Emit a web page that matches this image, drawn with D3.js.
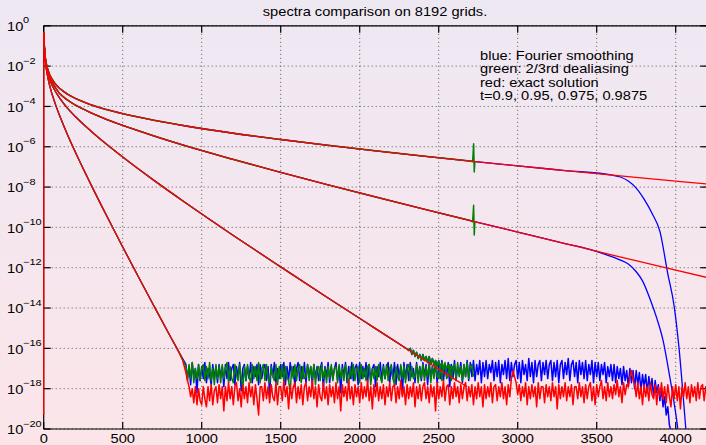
<!DOCTYPE html>
<html>
<head>
<meta charset="utf-8">
<script src="https://cdn.jsdelivr.net/npm/d3@7"></script>
<style>
  body { margin: 0; }
  svg { display: block; font-family: "Liberation Sans", Arial, sans-serif; }
</style>
</head>
<body>
<script>
// ---- text ----
const title = "spectra comparison on 8192 grids.";
const legendLines = ["blue: Fourier smoothing", "green: 2/3rd dealiasing", "red: exact solution", "t=0.9, 0.95, 0.975, 0.9875"];
const xTicks = [0, 500, 1000, 1500, 2000, 2500, 3000, 3500, 4000];
const yTickExp = [0, -2, -4, -6, -8, -10, -12, -14, -16, -18, -20];

// ---- spectra, log10 values ----
// t = 0.9
const kA = [1, 3, 6, 10, 20, 40, 70, 100, 150, 200, 300, 400, 500, 600, 700, 800, 860];
const lgA = [-0.35, -0.9, -1.3, -1.72, -2.3, -3.03, -3.8, -4.44, -5.39, -6.26, -7.89, -9.45, -10.97, -12.46, -13.93, -15.39, -16.25];
const kRedHeadA = [0], lgRedHeadA = [-19.3];
const kRedTailA = [880], lgRedTailA = [-16.6];
// t = 0.95
const kB = [1, 3, 6, 10, 20, 40, 70, 100, 150, 200, 300, 400, 500, 700, 900, 1200, 1500, 1800, 2100, 2300];
const lgB = [-0.35, -0.88, -1.26, -1.66, -2.16, -2.7, -3.2, -3.58, -4.08, -4.5, -5.23, -5.89, -6.51, -7.68, -8.79, -10.4, -11.96, -13.5, -15.02, -16.03];
const kRedTailB = [2400, 2550, 2640, 2680], lgRedTailB = [-16.53, -17.28, -17.72, -17.9];
// blue / green leave the exact curve and flatten out, every 10 modes from 2310
const numTailStartB = 2310;
const lgNumTailB = [
  -16.1, -16.0, -16.3, -16.1, -16.4, -16.2, -16.5, -16.3, -16.6, -16.3,
  -16.6, -16.4, -16.7, -16.4, -16.8, -16.5, -16.8, -16.6, -16.9, -16.6,
  -17.0, -16.7, -17.1, -16.8, -17.0, -16.8, -17.2, -16.9, -17.1, -16.9
];
// t = 0.975 and t = 0.9875
const kC = [1, 3, 6, 10, 20, 40, 70, 100, 150, 200, 300, 400, 500, 700, 900, 1200, 1500, 1800, 2100, 2400, 2700, 3000, 3300, 3600, 3900, 4200];
const lgC = [-0.35, -0.85, -1.22, -1.6, -2.05, -2.57, -3.02, -3.35, -3.68, -3.93, -4.32, -4.65, -4.94, -5.47, -5.96, -6.63, -7.27, -7.89, -8.49, -9.08, -9.66, -10.23, -10.8, -11.37, -11.93, -12.49];
const lgD = [-0.35, -0.82, -1.2, -1.56, -2.0, -2.47, -2.85, -3.1, -3.39, -3.6, -3.92, -4.16, -4.36, -4.69, -4.97, -5.33, -5.64, -5.93, -6.2, -6.46, -6.71, -6.95, -7.18, -7.41, -7.63, -7.85];
// green truncation spike at 2/3 of 4096
const kSpike = [2715, 2721, 2725, 2729];
const lgSpikeC = [-9.72, -8.9, -10.38, -9.7];
const lgSpikeD = [-6.74, -5.85, -7.25, -6.72];
// blue fall-off from Fourier smoothing
const kDropC = [3450, 3550, 3650, 3700, 3750, 3790, 3840, 3880, 3920, 3960, 4006, 4030];
const lgDropC = [-11.08, -11.33, -11.62, -11.82, -12.2, -12.65, -13.6, -14.5, -15.6, -17.3, -19.55, -21];
const kDropD = [3650, 3700, 3750, 3800, 3850, 3900, 3950, 3990, 4020, 4060, 4080];
const lgDropD = [-7.5, -7.7, -8.05, -8.6, -9.3, -10.2, -12.3, -13.9, -15.9, -19.6, -21.5];

// round-off floor, one value every 10 modes, rows of 100 modes
const noiseStep = 10;
const blueNoiseStart = 900;
const blueNoise = [
  -16.8, -17.5, -16.9, -17.8, -16.7, -17.4, -17.0, -18.2, -16.8, -17.6,
  -16.9, -17.5, -16.7, -17.7, -17.0, -17.3, -17.8, -16.8, -17.5, -16.9,
  -17.7, -16.8, -17.4, -16.9, -17.9, -16.8, -17.5, -16.7, -17.6, -17.0,
  -16.8, -17.8, -16.9, -17.4, -16.7, -18.1, -17.0, -16.8, -17.6, -16.9,
  -17.5, -16.7, -17.7, -16.9, -17.4, -16.8, -17.8, -16.8, -17.5, -17.0,
  -16.8, -17.6, -16.9, -18.3, -16.8, -17.4, -16.7, -17.7, -17.0, -17.5,
  -16.8, -17.4, -16.7, -17.8, -16.9, -17.6, -16.7, -17.4, -16.9, -17.9,
  -17.0, -16.7, -17.6, -16.9, -17.5, -16.7, -17.7, -16.8, -17.4, -16.9,
  -17.8, -16.8, -17.5, -16.9, -17.6, -17.0, -16.7, -18.0, -16.9, -17.4,
  -16.7, -17.7, -16.9, -17.5, -17.0, -16.7, -17.6, -16.9, -18.2, -16.8,
  -17.4, -16.7, -17.7, -16.9, -17.5, -16.7, -17.6, -17.0, -16.8, -17.8,
  -16.7, -17.5, -16.9, -17.4, -16.7, -17.7, -16.8, -17.6, -17.0, -16.8,
  -17.9, -16.9, -17.4, -16.7, -17.6, -16.8, -17.5, -17.0, -16.7, -17.7,
  -16.9, -17.5, -16.7, -17.8, -16.8, -17.4, -16.9, -18.3, -16.7, -17.5,
  -16.8, -17.6, -16.7, -17.4, -17.0, -17.7, -16.7, -17.5, -16.9, -17.6,
  -16.7, -17.4, -16.8, -17.8, -16.7, -17.5, -16.9, -17.3, -16.7, -17.7,
  -16.8, -17.5, -16.6, -17.6, -16.9, -17.4, -16.7, -17.9, -16.8, -17.5,
  -16.6, -17.6, -16.9, -17.3, -16.7, -17.7, -16.8, -17.4, -16.6, -17.6,
  -16.7, -17.4, -16.6, -17.6, -16.8, -17.3, -16.6, -17.7, -16.7, -17.4,
  -16.6, -17.5, -16.8, -17.2, -16.6, -17.6, -16.7, -17.4, -16.6, -17.7,
  -16.8, -17.3, -16.6, -17.5, -16.5, -17.6, -16.7, -17.4, -16.8, -16.6,
  -17.5, -16.7, -17.7, -16.6, -17.3, -16.8, -17.6, -16.5, -17.4, -16.7,
  -17.7, -16.6, -17.4, -16.8, -16.6, -17.6, -16.7, -17.3, -16.6, -17.5,
  -16.8, -16.6, -17.6, -16.7, -17.4, -16.6, -17.7, -16.8, -16.6, -17.5,
  -16.7, -17.3, -16.5, -17.6, -16.8, -16.6, -17.4, -16.7, -17.7, -16.6,
  -17.3, -16.7, -17.5, -16.6, -17.6, -16.8, -17.3, -16.6, -17.7, -16.7,
  -17.4, -16.7, -17.6, -16.8, -17.3, -16.7, -17.7, -16.9, -17.4, -16.8,
  -17.6, -16.8, -17.7, -16.9, -17.5, -17.0, -17.8, -16.9, -17.6, -17.1,
  -17.9, -17.0, -17.7, -17.1, -18.0, -17.1, -17.8, -17.2, -18.1, -17.3,
  -17.9, -17.3, -18.2, -17.4, -18.0, -17.5, -18.4, -17.6, -18.2, -17.8,
  -18.6, -18.0, -18.9, -18.4, -19.3, -18.9, -19.8, -20.1, -20.6, -21.0
];
const greenNoiseStart = 900;
const greenNoise = [
  -16.9, -17.6, -16.8, -17.5, -16.7, -17.7, -17.0, -17.5, -16.8, -17.6,
  -17.0, -16.8, -17.6, -16.9, -17.5, -16.7, -17.6, -17.0, -17.8, -16.8,
  -17.5, -16.9, -17.7, -16.8, -17.5, -17.0, -16.7, -17.7, -16.9, -17.5,
  -17.7, -16.8, -17.3, -17.6, -16.8, -17.5, -18.0, -16.9, -17.6, -16.8,
  -17.4, -17.7, -16.8, -17.5, -16.9, -17.6, -16.7, -17.7, -17.0, -16.8,
  -17.6, -16.8, -17.5, -17.7, -16.9, -17.4, -17.6, -16.8, -17.8, -16.9,
  -17.5, -16.8, -17.7, -16.9, -17.4, -17.6, -18.2, -16.9, -17.5, -16.8,
  -17.6, -17.0, -16.8, -17.7, -16.9, -17.5, -17.4, -16.8, -17.6, -16.9,
  -17.5, -16.8, -17.8, -17.0, -16.9, -17.6, -16.8, -17.5, -17.0, -17.7,
  -16.9, -17.5, -16.8, -17.6, -17.0, -16.9, -17.7, -16.8, -17.5, -17.0,
  -17.6, -16.8, -17.4, -17.8, -16.9, -17.5, -16.8, -17.6, -17.0, -16.9,
  -17.7, -16.8, -17.5, -17.0, -17.6, -16.9, -16.8, -17.8, -17.0, -17.5,
  -16.9, -17.6, -16.8, -17.4, -17.7, -16.9, -17.5, -16.8, -17.6, -17.0,
  -16.8, -17.5, -17.8, -16.9, -17.4, -17.6, -16.8, -17.5, -16.9, -17.7,
  -17.0, -16.8, -17.6, -16.9, -17.5, -17.4, -16.8, -17.7, -16.9, -17.5,
  -16.8, -17.6, -16.9, -17.4, -16.8, -17.7, -16.9, -17.5, -16.8, -17.4,
  -17.5, -16.8, -17.6, -16.9, -16.7, -17.5, -17.4, -16.8, -17.6, -16.9,
  -16.8, -17.5, -16.7, -17.4, -16.9, -17.6, -16.8, -17.4, -16.7, -17.5,
  -16.9, -16.8, -17.4
];
const redNoiseStart = 900;
const redNoise = [
  -17.2, -17.6, -17.9, -18.4, -18.0, -18.7, -17.9, -18.8, -18.0, -18.6,
  -18.8, -17.9, -18.5, -18.9, -17.9, -18.6, -17.8, -18.8, -18.1, -17.9,
  -18.7, -17.8, -18.5, -17.9, -19.1, -17.9, -18.6, -17.7, -18.5, -17.9,
  -18.8, -17.9, -17.7, -18.6, -18.0, -18.9, -17.8, -18.5, -17.9, -18.7,
  -17.7, -18.4, -17.9, -18.8, -17.8, -18.5, -19.3, -17.9, -17.9, -18.6,
  -17.7, -18.5, -17.9, -18.7, -17.8, -18.4, -18.6, -17.7, -18.8, -17.9,
  -17.9, -18.6, -17.6, -18.4, -17.9, -19.0, -17.8, -18.5, -17.9, -17.7,
  -18.7, -17.9, -18.5, -17.8, -18.8, -17.9, -17.7, -18.6, -17.9, -18.4,
  -17.6, -18.5, -17.9, -18.9, -17.8, -18.4, -18.6, -17.7, -18.5, -17.9,
  -18.8, -17.8, -18.4, -17.9, -18.7, -17.7, -18.5, -17.9, -19.1, -17.8,
  -18.4, -17.9, -18.6, -17.6, -18.5, -17.9, -18.8, -17.8, -18.4, -17.9,
  -18.7, -17.7, -18.5, -17.9, -18.4, -17.6, -18.6, -17.9, -19.0, -17.8,
  -18.4, -17.7, -18.6, -17.9, -18.5, -17.8, -18.8, -17.9, -18.4, -17.7,
  -18.6, -17.9, -17.8, -18.7, -17.9, -18.5, -17.6, -18.4, -17.9, -18.8,
  -17.8, -18.5, -17.9, -18.4, -17.7, -18.9, -17.9, -18.5, -17.8, -18.6,
  -17.9, -17.7, -18.5, -17.9, -18.7, -17.8, -18.4, -17.9, -19.1, -17.7,
  -18.5, -17.9, -18.4, -17.6, -18.6, -17.9, -17.8, -18.8, -17.9, -18.5,
  -17.7, -18.4, -17.9, -18.7, -17.8, -18.5, -17.9, -17.7, -18.6, -17.9,
  -18.4, -17.8, -18.8, -17.9, -18.5, -17.7, -18.4, -17.9, -18.9, -17.8,
  -18.5, -17.9, -18.4, -17.7, -18.7, -17.9, -17.8, -18.6, -17.9, -18.4,
  -17.7, -18.5, -17.9, -18.8, -17.8, -18.4, -17.5, -17.1, -17.4, -17.7,
  -18.3, -17.8, -18.6, -17.9, -18.4, -17.7, -18.8, -17.9, -18.5, -17.8,
  -18.4, -17.9, -18.9, -17.7, -18.5, -17.9, -17.9, -18.7, -17.8, -18.4,
  -17.9, -18.6, -17.7, -18.4, -17.9, -19.0, -17.8, -18.5, -17.9, -18.4,
  -17.7, -18.6, -17.9, -18.4, -17.8, -18.8, -17.9, -17.9, -18.5, -17.7,
  -18.4, -17.9, -18.7, -17.8, -18.5, -17.9, -17.7, -18.6, -17.9, -18.8,
  -17.8, -18.4, -17.9, -17.6, -18.5, -17.9, -18.6, -17.7, -18.4, -17.9,
  -18.5, -17.8, -18.3, -17.6, -18.4, -17.9, -18.7, -17.7, -18.3, -17.8,
  -17.9, -17.4, -17.1, -17.5, -17.8, -18.4, -17.7, -18.5, -17.9, -18.8,
  -17.8, -18.4, -17.9, -18.6, -17.7, -18.3, -18.5, -17.8, -18.8, -17.9,
  -18.4, -17.7, -18.5, -17.9, -18.7, -17.8, -18.4, -18.9, -17.9, -18.5,
  -17.8, -18.6, -17.9, -19.0, -17.9, -18.4, -17.7, -18.5, -17.9, -18.7,
  -17.8, -18.4, -17.9, -18.6, -17.7, -18.5, -17.9, -17.8, -18.6, -17.9,
  -18.4
];

const width = 706, height = 445;
const plotLeft = 43.7, plotTop = 25.8, plotBottom = 429;
const fontSize = 12, stretch = 1.22; // the text in the picture is widened

let x = d3.scaleLinear().domain([0, 4200]).range([plotLeft, 707.3]);
let y = d3.scaleLog().domain([1e-20, 1]).range([plotBottom, plotTop]);

let svg = d3.select("body").append("svg")
  .attr("width", width)
  .attr("height", height);

// background gradient, lavender to pink
let defs = svg.append("defs");
let grad = defs.append("linearGradient")
  .attr("id", "bg").attr("x1", 0).attr("y1", 0).attr("x2", 0).attr("y2", 1);
grad.append("stop").attr("offset", "0%").attr("stop-color", "#eee8f3");
grad.append("stop").attr("offset", "100%").attr("stop-color", "#fbe5e9");
svg.append("rect").attr("width", width).attr("height", height).attr("fill", "url(#bg)");

defs.append("clipPath").attr("id", "plot")
  .append("rect").attr("x", plotLeft - 2).attr("y", plotTop)
  .attr("width", width).attr("height", plotBottom - plotTop);

// dotted grid
let grid = svg.append("g").attr("stroke", "#555").attr("stroke-width", 1).attr("stroke-dasharray", "1,3");
grid.selectAll(".gx").data(xTicks.slice(1)).enter().append("line")
  .attr("x1", d => x(d)).attr("x2", d => x(d)).attr("y1", plotTop).attr("y2", plotBottom);
grid.selectAll(".gy").data(yTickExp).enter().append("line")
  .attr("x1", plotLeft).attr("x2", width).attr("y1", d => y(10 ** d)).attr("y2", d => y(10 ** d));

// axes box and inward ticks
let axes = svg.append("g").attr("stroke", "#000").attr("stroke-width", 1.2);
axes.append("line").attr("x1", plotLeft).attr("x2", width).attr("y1", plotTop).attr("y2", plotTop);
axes.append("line").attr("x1", plotLeft).attr("x2", width).attr("y1", plotBottom).attr("y2", plotBottom);
axes.append("line").attr("x1", plotLeft).attr("x2", plotLeft).attr("y1", plotTop).attr("y2", plotBottom);
xTicks.forEach(t => {
  axes.append("line").attr("x1", x(t)).attr("x2", x(t)).attr("y1", plotTop).attr("y2", plotTop + 7);
  axes.append("line").attr("x1", x(t)).attr("x2", x(t)).attr("y1", plotBottom).attr("y2", plotBottom - 7);
});
yTickExp.forEach(e => {
  axes.append("line").attr("x1", plotLeft).attr("x2", plotLeft + 7).attr("y1", y(10 ** e)).attr("y2", y(10 ** e));
  axes.append("line").attr("x1", x(4200)).attr("x2", x(4200) - 7).attr("y1", y(10 ** e)).attr("y2", y(10 ** e));
});

// widened text helper
let label = (parent, tx, ty, str, anchor) => parent.append("text")
  .attr("transform", `translate(${tx},${ty}) scale(${stretch},1)`)
  .attr("text-anchor", anchor || "start")
  .attr("font-size", fontSize)
  .text(str);

// tick labels
let xl = svg.append("g");
xTicks.forEach(t => label(xl, x(t), 443, t, "middle"));

let yl = svg.append("g");
yTickExp.forEach(e => {
  let g = yl.append("g").attr("transform", `translate(7,${y(10 ** e) + 5.2}) scale(${stretch},1)`);
  g.append("text").attr("font-size", fontSize).text("10");
  g.append("text").attr("x", 13.2).attr("y", -7.6).attr("font-size", 9)
    .text(e === 0 ? "0" : "\u2212" + (-e));
});

// lines
let smooth = d3.line().x(d => x(d[0])).y(d => y(10 ** d[1])).curve(d3.curveMonotoneX);
let jagged = d3.line().x(d => x(d[0])).y(d => y(10 ** d[1]));

let zip = (ks, vs) => ks.map((k, i) => [k, vs[i]]);
let upTo = (ks, vs, kmax) => zip(ks, vs).filter(p => p[0] <= kmax);
let noisePts = (start, vs) => vs.map((v, i) => [start + i * noiseStep, v]);

let plot = svg.append("g").attr("clip-path", "url(#plot)").attr("fill", "none");

let drawSmooth = (pts, color) => plot.append("path").datum(pts)
  .attr("d", smooth).attr("stroke", color).attr("stroke-width", 1.3);
let drawJagged = (pts, color) => plot.append("path").datum(pts)
  .attr("d", jagged).attr("stroke", color).attr("stroke-width", 1.5).attr("stroke-linejoin", "round");

let curveA = zip(kA, lgA);
let lastA = curveA[curveA.length - 1];
let redA = zip(kRedHeadA, lgRedHeadA).concat(curveA, zip(kRedTailA, lgRedTailA));
let curveB = zip(kB, lgB);
let tailB = [curveB[curveB.length - 1]].concat(noisePts(numTailStartB, lgNumTailB));

// blue: Fourier smoothing
drawSmooth(curveA, "#0000ff");
drawSmooth(curveB, "#0000ff");
drawJagged(tailB, "#0000ff");
drawSmooth(upTo(kC, lgC, 3300).concat(zip(kDropC, lgDropC)), "#0000ff");
drawSmooth(upTo(kC, lgD, 3600).concat(zip(kDropD, lgDropD)), "#0000ff");
drawJagged([lastA].concat(noisePts(blueNoiseStart, blueNoise)), "#0000ff");

// green: 2/3 dealiasing
drawSmooth(curveA, "#008000");
drawSmooth(curveB, "#008000");
drawJagged(tailB, "#008000");
drawJagged([lastA].concat(noisePts(greenNoiseStart, greenNoise)), "#008000");
drawJagged(upTo(kC, lgC, 2700).concat(zip(kSpike, lgSpikeC)), "#008000");
drawJagged(upTo(kC, lgD, 2700).concat(zip(kSpike, lgSpikeD)), "#008000");

// red: exact solution
drawSmooth(redA, "#ff0000");
drawSmooth(curveB.concat(zip(kRedTailB, lgRedTailB)), "#ff0000");
drawSmooth(zip(kC, lgC), "#ff0000");
drawSmooth(zip(kC, lgD), "#ff0000");
drawJagged([redA[redA.length - 1]].concat(noisePts(redNoiseStart, redNoise)), "#ff0000");

// title and legend text
label(svg, 375, 15.5, title, "middle");
let lg = svg.append("g");
legendLines.forEach((s, i) => label(lg, 480, 60 + i * 13.4, s));
</script>
</body>
</html>
